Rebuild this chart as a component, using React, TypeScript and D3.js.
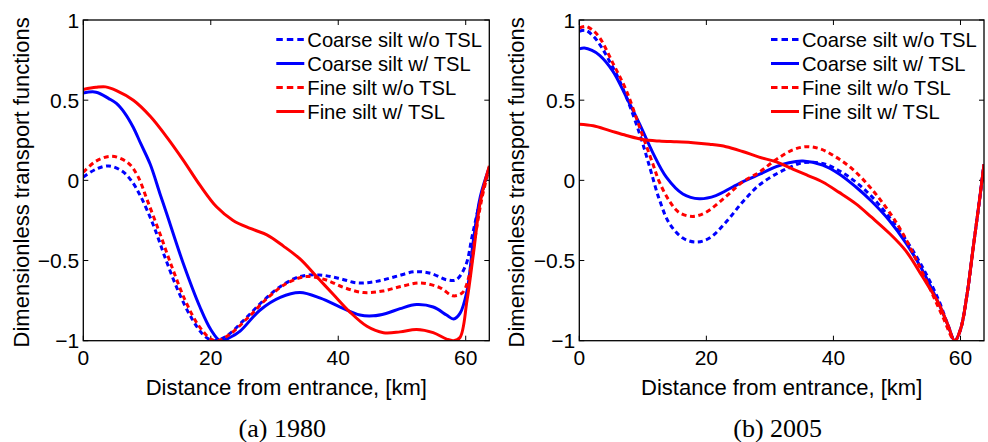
import React, { useEffect, useRef } from "react";
import * as d3 from "d3";

type Pt = [number, number];

// (a) 1980 — distance [km], dimensionless value
const coarseNoTsl1980: Pt[] = [
  [0, 0.02], [2, 0.07], [4, 0.09], [6, 0.06], [7.5, 0.0], [9, -0.1], [11, -0.28], [13, -0.5],
  [15, -0.7], [17, -0.86], [19, -0.97], [20.5, -1.0], [22.5, -0.97], [25, -0.88], [28, -0.76],
  [31, -0.66], [34, -0.6], [37, -0.59], [40, -0.61], [43, -0.64], [46, -0.63], [49, -0.6],
  [52, -0.57], [54.5, -0.58], [57, -0.62], [58.5, -0.62], [60, -0.53], [61, -0.35], [62.3, -0.12], [63.7, 0.08],
];
const coarseTsl1980: Pt[] = [
  [0, 0.545], [2, 0.55], [4, 0.51], [5.2, 0.48], [6.5, 0.42], [7.85, 0.33], [9, 0.23], [10.5, 0.1],
  [12, -0.08], [13.1, -0.21], [15.7, -0.52], [18.3, -0.79], [20, -0.93], [21.5, -1.0], [23, -0.98],
  [24.6, -0.94], [27.7, -0.81], [30.9, -0.73], [34, -0.7], [37.2, -0.735], [40.3, -0.79], [43.4, -0.84],
  [45.5, -0.845], [47.5, -0.83], [49.7, -0.8], [52.3, -0.775], [54.9, -0.79], [57, -0.84], [58.1, -0.865],
  [59.1, -0.83], [60.2, -0.69], [61.2, -0.375], [62.3, -0.1], [63.7, 0.08],
];
const fineNoTsl1980: Pt[] = [
  [0, 0.05], [2, 0.12], [4.5, 0.15], [7, 0.11], [8.5, 0.03], [10, -0.12], [12, -0.33], [14, -0.55],
  [16, -0.75], [18, -0.9], [20, -0.99], [21, -1.0], [23, -0.96], [26, -0.85], [29, -0.73], [32, -0.64],
  [35, -0.6], [38, -0.62], [41, -0.67], [44, -0.7], [47, -0.69], [50, -0.66], [53, -0.64], [56, -0.67],
  [58, -0.72], [59.5, -0.7], [60.5, -0.6], [61.5, -0.35], [62.5, -0.12], [63.7, 0.08],
];
const fineTsl1980: Pt[] = [
  [0, 0.567], [2, 0.58], [3.5, 0.583], [5.2, 0.56], [7.85, 0.5], [10.5, 0.4], [13.1, 0.27], [15.7, 0.125],
  [18.3, -0.03], [20.9, -0.165], [23.5, -0.25], [26.2, -0.3], [28.8, -0.34], [31.4, -0.41], [34, -0.49],
  [36.6, -0.6], [39.2, -0.71], [41.8, -0.82], [44.5, -0.91], [47.1, -0.95], [49.7, -0.945], [52.3, -0.93],
  [54.9, -0.95], [57, -0.99], [58.1, -1.0], [59.1, -0.98], [60.2, -0.75], [61.2, -0.46], [62.3, -0.13], [63.7, 0.09],
];

// (b) 2005
const coarseNoTsl2005: Pt[] = [
  [0, 0.93], [1, 0.935], [2.2, 0.9], [3.5, 0.83], [4.8, 0.74], [6, 0.65], [7.4, 0.52], [9.5, 0.29],
  [11.1, 0.08], [12.6, -0.12], [14.2, -0.27], [16.3, -0.36], [18.4, -0.385], [20.5, -0.36], [23.1, -0.26],
  [25.7, -0.135], [28.3, -0.03], [31, 0.04], [33.1, 0.08], [35.2, 0.11], [38.3, 0.105], [40.9, 0.06],
  [43.5, -0.01], [46, -0.1], [48.8, -0.23], [51.4, -0.37], [54, -0.54], [56.6, -0.75], [58, -0.9],
  [59.1, -1.0], [60, -0.93], [61, -0.72], [62, -0.42], [63, -0.12], [63.7, 0.1],
];
const coarseTsl2005: Pt[] = [
  [0, 0.82], [0.8, 0.825], [2, 0.81], [3.2, 0.78], [5.3, 0.68], [7.4, 0.52], [9.5, 0.35], [11.6, 0.17],
  [13.7, 0.02], [16.3, -0.085], [18.9, -0.115], [21.5, -0.095], [24.2, -0.04], [26.2, 0.0], [28.5, 0.04],
  [31, 0.085], [33, 0.11], [35.2, 0.12], [38.3, 0.095], [40.9, 0.04], [43.5, -0.04], [46, -0.13],
  [48.8, -0.25], [51.4, -0.39], [54, -0.56], [56.6, -0.77], [58, -0.9], [59.1, -1.0], [60, -0.93],
  [61, -0.72], [62, -0.42], [63, -0.12], [63.7, 0.1],
];
const fineNoTsl2005: Pt[] = [
  [0, 0.95], [1, 0.96], [2, 0.94], [3.2, 0.89], [5.3, 0.73], [7.4, 0.56], [9.5, 0.33], [11.6, 0.1],
  [12.6, -0.01], [14.2, -0.13], [15.7, -0.2], [17.8, -0.225], [19.9, -0.2], [23.1, -0.1], [25.7, -0.01],
  [28.3, 0.05], [31, 0.13], [33.6, 0.19], [35.8, 0.21], [38, 0.195], [40.4, 0.145], [43, 0.07],
  [45.7, -0.04], [48.3, -0.17], [50.9, -0.33], [54.6, -0.625], [57.2, -0.85], [59.1, -1.0], [60, -0.93],
  [61, -0.72], [62, -0.42], [63, -0.12], [63.7, 0.1],
];
const fineTsl2005: Pt[] = [
  [0, 0.35], [2.2, 0.34], [4.8, 0.31], [7.4, 0.28], [10, 0.255], [12.6, 0.245], [15.3, 0.24], [17.9, 0.235],
  [20.5, 0.225], [23.1, 0.21], [25.7, 0.18], [28.3, 0.145], [31, 0.115], [33.6, 0.07], [36, 0.03],
  [38.3, -0.01], [40.9, -0.075], [43.5, -0.145], [46, -0.23], [48.8, -0.33], [51.4, -0.44], [54, -0.6],
  [56.6, -0.77], [58, -0.9], [59.1, -1.0], [60, -0.93], [61, -0.72], [62, -0.42], [63, -0.12], [63.7, 0.1],
];

const seriesNames = ["Coarse silt w/o TSL", "Coarse silt w/ TSL", "Fine silt w/o TSL", "Fine silt w/ TSL"];
const seriesColors = ["#0000ff", "#0000ff", "#ff0000", "#ff0000"];
const seriesDashed = [true, false, true, false];
const xTicks = [0, 20, 40, 60];
const yTicks = [-1, -0.5, 0, 0.5, 1];
const captions = ["(a) 1980", "(b) 2005"];
const panelData = [
  [coarseNoTsl1980, coarseTsl1980, fineNoTsl1980, fineTsl1980],
  [coarseNoTsl2005, coarseTsl2005, fineNoTsl2005, fineTsl2005],
];

const W = 988;
const H = 442;
const SANS = "'Liberation Sans', Arial, Helvetica, sans-serif";
const SERIF = "'Liberation Serif', 'Times New Roman', serif";
const DASH = "5,3.5";

const panels = [
  { left: 83.3, right: 489.3, top: 20, bottom: 340.7, ylabX: 29 },
  { left: 579.3, right: 984, top: 20, bottom: 340.7, ylabX: 524 },
];

const App = () => {
  const ref = useRef<SVGSVGElement>(null);

  useEffect(() => {
    if (!ref.current) return;
    const svg = d3.select(ref.current);
    svg.selectAll("*").remove();

    panels.forEach((p, pi) => {
      const x = d3.scaleLinear().domain([0, 63.7]).range([p.left, p.right]);
      const y = d3.scaleLinear().domain([-1, 1]).range([p.bottom, p.top]);
      const g = svg.append("g");

      const clipId = `clip${pi}`;
      g.append("clipPath").attr("id", clipId)
        .append("rect")
        .attr("x", p.left).attr("y", p.top - 2)
        .attr("width", p.right - p.left).attr("height", p.bottom - p.top + 2);

      // ticks (inside, on all four sides)
      const tl = 5;
      xTicks.forEach((t) => {
        g.append("line").attr("x1", x(t)).attr("x2", x(t)).attr("y1", p.bottom).attr("y2", p.bottom - tl)
          .attr("stroke", "#000").attr("stroke-width", 1);
        g.append("line").attr("x1", x(t)).attr("x2", x(t)).attr("y1", p.top).attr("y2", p.top + tl)
          .attr("stroke", "#000").attr("stroke-width", 1);
        g.append("text").attr("x", x(t)).attr("y", p.bottom + 24)
          .attr("text-anchor", "middle").attr("font-family", SANS).attr("font-size", 21)
          .text(String(t));
      });
      yTicks.forEach((t) => {
        g.append("line").attr("x1", p.left).attr("x2", p.left + tl).attr("y1", y(t)).attr("y2", y(t))
          .attr("stroke", "#000").attr("stroke-width", 1);
        g.append("line").attr("x1", p.right).attr("x2", p.right - tl).attr("y1", y(t)).attr("y2", y(t))
          .attr("stroke", "#000").attr("stroke-width", 1);
        g.append("text").attr("x", p.left - 4).attr("y", y(t)).attr("dy", "0.36em")
          .attr("text-anchor", "end").attr("font-family", SANS).attr("font-size", 21)
          .text(t < 0 ? "\u2212" + String(-t) : String(t));
      });

      // curves
      const line = d3.line<Pt>().x((d) => x(d[0])).y((d) => y(d[1])).curve(d3.curveCatmullRom.alpha(0.5));
      panelData[pi].forEach((s, i) => {
        g.append("path").datum(s)
          .attr("d", line)
          .attr("clip-path", `url(#${clipId})`)
          .attr("fill", "none")
          .attr("stroke", seriesColors[i])
          .attr("stroke-width", 3)
          .attr("stroke-dasharray", seriesDashed[i] ? DASH : null);
      });

      // axes box
      g.append("rect").attr("x", p.left).attr("y", p.top)
        .attr("width", p.right - p.left).attr("height", p.bottom - p.top)
        .attr("fill", "none").attr("stroke", "#000").attr("stroke-width", 1.3);

      // legend
      const lx = p.right - 213;
      seriesNames.forEach((name, i) => {
        const ly = 39.5 + i * 24;
        g.append("line").attr("x1", lx).attr("x2", lx + 28).attr("y1", ly).attr("y2", ly)
          .attr("stroke", seriesColors[i]).attr("stroke-width", 3)
          .attr("stroke-dasharray", seriesDashed[i] ? "6.5,4" : null);
        g.append("text").attr("x", lx + 31).attr("y", ly).attr("dy", "0.36em")
          .attr("font-family", SANS).attr("font-size", 20.2).text(name);
      });

      // labels
      g.append("text").attr("x", (p.left + p.right) / 2).attr("y", 395)
        .attr("text-anchor", "middle").attr("font-family", SANS).attr("font-size", 22)
        .text("Distance from entrance, [km]");
      g.append("text")
        .attr("transform", `translate(${p.ylabX},${(p.top + p.bottom) / 2 + 2}) rotate(-90)`)
        .attr("text-anchor", "middle").attr("font-family", SANS).attr("font-size", 22)
        .text("Dimensionless transport functions");
      g.append("text").attr("x", (p.left + p.right) / 2 - 4).attr("y", 436.5)
        .attr("text-anchor", "middle").attr("font-family", SERIF).attr("font-size", 26)
        .text(captions[pi]);
    });
  }, []);

  return (
    <svg ref={ref} width={W} height={H}
      style={{ position: "absolute", left: 0, top: 0, background: "#fff" }} />
  );
};

export default App;
